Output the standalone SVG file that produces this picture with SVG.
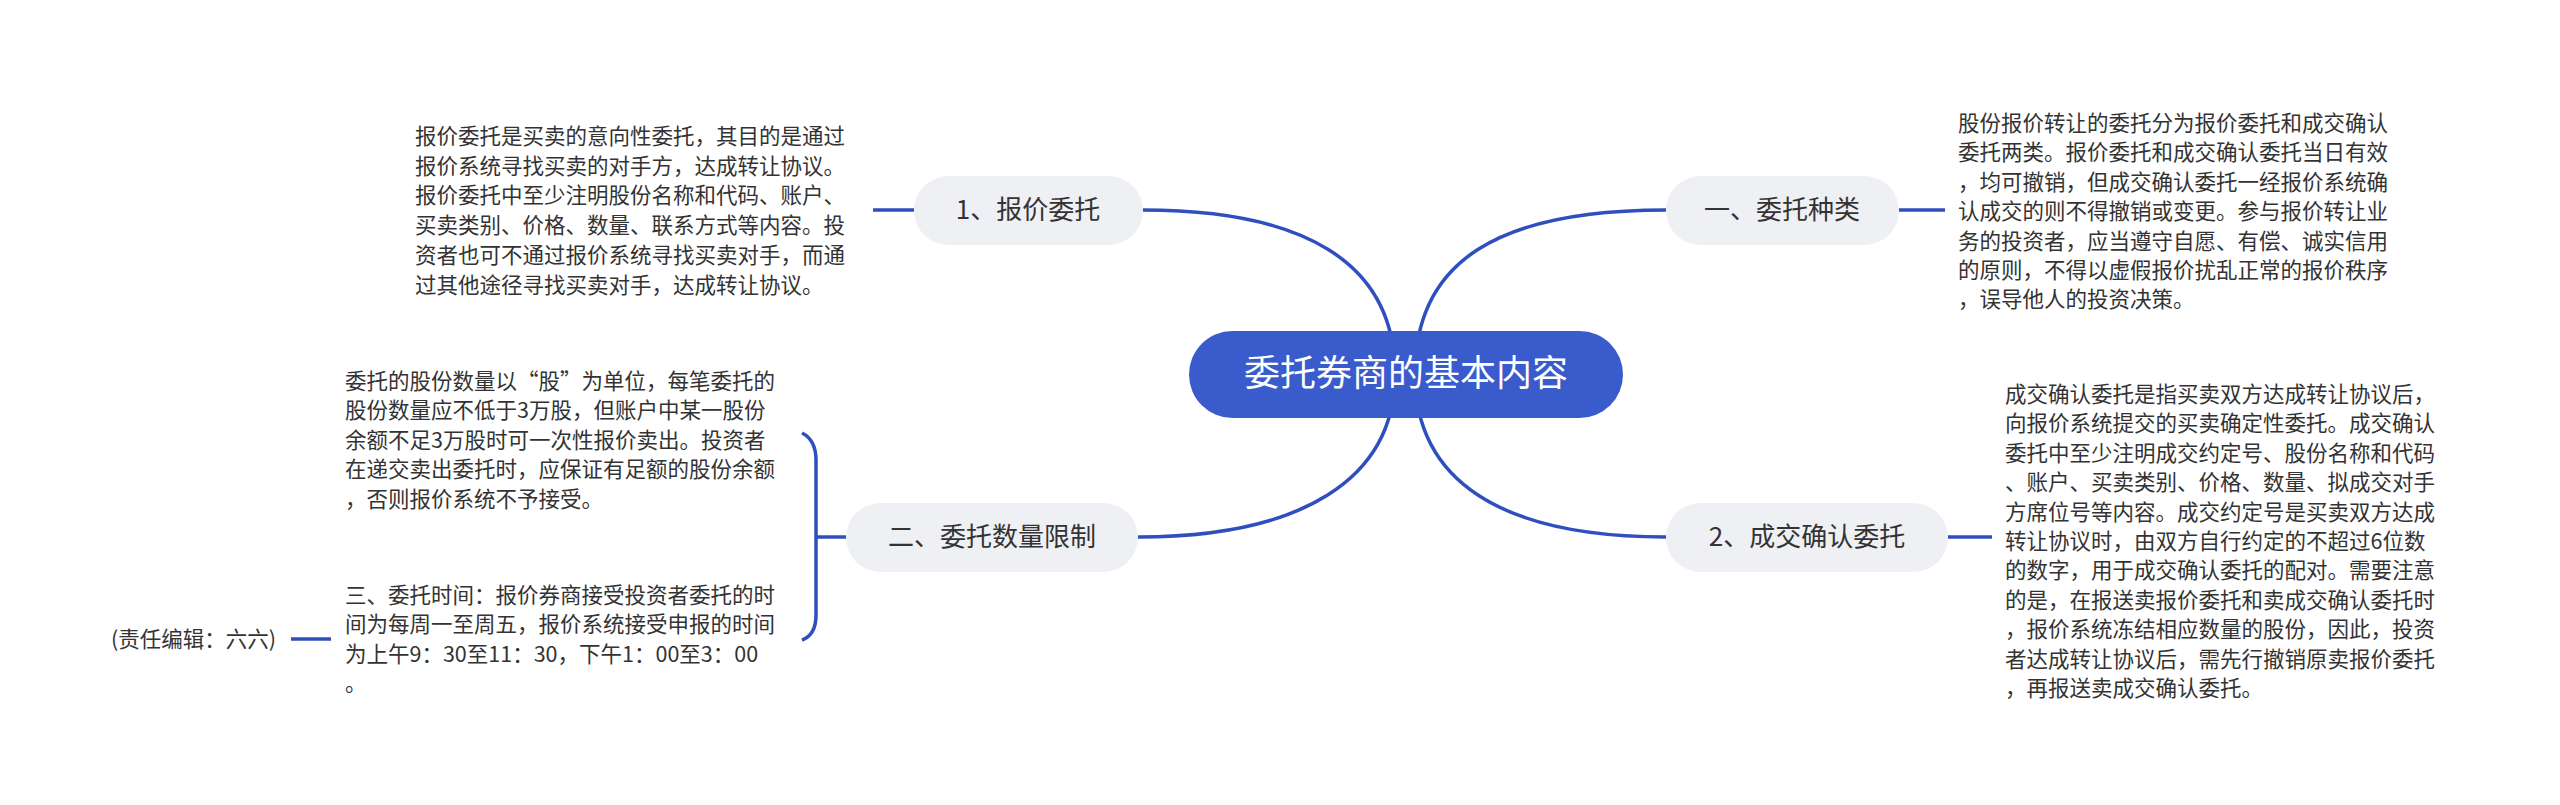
<svg xmlns="http://www.w3.org/2000/svg" width="2560" height="805" viewBox="0 0 2560 805">
<style>
text{font-family:"Noto Sans CJK SC","Liberation Sans",sans-serif;fill:#333}
.t{font-size:21.5px}
.n{font-size:26px}
.c{stroke:#2f4fbf;stroke-width:3.5;fill:none}
.box{fill:#eef0f4}
</style>
<rect width="2560" height="805" fill="#fff"/>
<g id="connectors">
<path class="c" d="M1395,374 C1395,260 1300,210 1143,210"/>
<path class="c" d="M1395,374 C1395,480 1300,537 1138,537"/>
<path class="c" d="M1415,374 C1415,260 1500,210 1666,210"/>
<path class="c" d="M1415,374 C1415,480 1500,537 1666,537"/>
<path class="c" d="M914,210 H873"/>
<path class="c" d="M1899,210 H1945"/>
<path class="c" d="M1948,537 H1992"/>
<path class="c" d="M846,537 H816"/>
<path class="c" d="M802,433 Q816,440 816,460 V615 Q816,635 802,640"/>
<path class="c" d="M331,639 H291"/>
</g>
<g id="center"><rect x="1189" y="331" width="434" height="87" rx="43.5" fill="#3a5bcc"/><text x="1406" y="386" font-size="36" text-anchor="middle" style="fill:#fff">委托券商的基本内容</text></g>
<g id="n1"><rect class="box" x="914" y="176" width="229" height="69" rx="34.5"/><text class="n" x="1028" y="219" text-anchor="middle">1、报价委托</text></g>
<g id="n2"><rect class="box" x="1666" y="176" width="233" height="69" rx="34.5"/><text class="n" x="1782" y="219" text-anchor="middle">一、委托种类</text></g>
<g id="n3"><rect class="box" x="846" y="503" width="292" height="69" rx="34.5"/><text class="n" x="992" y="546" text-anchor="middle">二、委托数量限制</text></g>
<g id="n4"><rect class="box" x="1666" y="503" width="282" height="69" rx="34.5"/><text class="n" x="1807" y="546" text-anchor="middle">2、成交确认委托</text></g>
<g id="t1"><text class="t" x="415" y="144"><tspan x="415">报价委托是买卖的意向性委托，其目的是通过</tspan><tspan x="415" dy="29.7">报价系统寻找买卖的对手方，达成转让协议。</tspan><tspan x="415" dy="29.7">报价委托中至少注明股份名称和代码、账户、</tspan><tspan x="415" dy="29.7">买卖类别、价格、数量、联系方式等内容。投</tspan><tspan x="415" dy="29.7">资者也可不通过报价系统寻找买卖对手，而通</tspan><tspan x="415" dy="29.7">过其他途径寻找买卖对手，达成转让协议。</tspan></text></g>
<g id="t2"><text class="t" x="1958" y="131"><tspan x="1958">股份报价转让的委托分为报价委托和成交确认</tspan><tspan x="1958" dy="29.4">委托两类。报价委托和成交确认委托当日有效</tspan><tspan x="1958" dy="29.4">，均可撤销，但成交确认委托一经报价系统确</tspan><tspan x="1958" dy="29.4">认成交的则不得撤销或变更。参与报价转让业</tspan><tspan x="1958" dy="29.4">务的投资者，应当遵守自愿、有偿、诚实信用</tspan><tspan x="1958" dy="29.4">的原则，不得以虚假报价扰乱正常的报价秩序</tspan><tspan x="1958" dy="29.4">，误导他人的投资决策。</tspan></text></g>
<g id="t3"><text class="t" x="345" y="389"><tspan x="345">委托的股份数量以“股”为单位，每笔委托的</tspan><tspan x="345" dy="29.4">股份数量应不低于3万股，但账户中某一股份</tspan><tspan x="345" dy="29.4">余额不足3万股时可一次性报价卖出。投资者</tspan><tspan x="345" dy="29.4">在递交卖出委托时，应保证有足额的股份余额</tspan><tspan x="345" dy="29.4">，否则报价系统不予接受。</tspan></text></g>
<g id="t4"><text class="t" x="345" y="603"><tspan x="345">三、委托时间：报价券商接受投资者委托的时</tspan><tspan x="345" dy="29.4">间为每周一至周五，报价系统接受申报的时间</tspan><tspan x="345" dy="29.4">为上午9：30至11：30，下午1：00至3：00</tspan><tspan x="345" dy="29.4">。</tspan></text></g>
<g id="t5"><text class="t" x="111" y="647">(责任编辑：六六)</text></g>
<g id="t6"><text class="t" x="2005" y="402"><tspan x="2005">成交确认委托是指买卖双方达成转让协议后，</tspan><tspan x="2005" dy="29.4">向报价系统提交的买卖确定性委托。成交确认</tspan><tspan x="2005" dy="29.4">委托中至少注明成交约定号、股份名称和代码</tspan><tspan x="2005" dy="29.4">、账户、买卖类别、价格、数量、拟成交对手</tspan><tspan x="2005" dy="29.4">方席位号等内容。成交约定号是买卖双方达成</tspan><tspan x="2005" dy="29.4">转让协议时，由双方自行约定的不超过6位数</tspan><tspan x="2005" dy="29.4">的数字，用于成交确认委托的配对。需要注意</tspan><tspan x="2005" dy="29.4">的是，在报送卖报价委托和卖成交确认委托时</tspan><tspan x="2005" dy="29.4">，报价系统冻结相应数量的股份，因此，投资</tspan><tspan x="2005" dy="29.4">者达成转让协议后，需先行撤销原卖报价委托</tspan><tspan x="2005" dy="29.4">，再报送卖成交确认委托。</tspan></text></g>
</svg>
